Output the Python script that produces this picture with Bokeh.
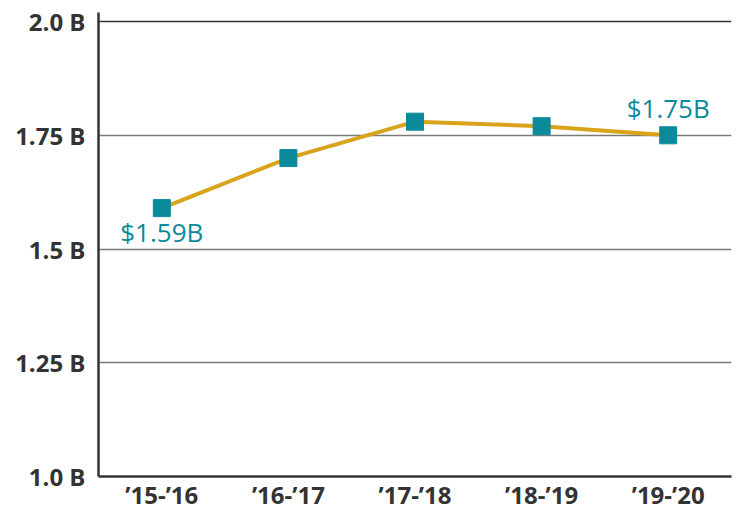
from bokeh.plotting import figure
from bokeh.models import FixedTicker, Range1d, ColumnDataSource, Span
from bokeh.core.properties import value
from bokeh.embed import file_html
from bokeh.resources import INLINE

years = ["\u201915-\u201916", "\u201916-\u201917", "\u201917-\u201918", "\u201918-\u201919", "\u201919-\u201920"]
spending = [1.59, 1.70, 1.78, 1.77, 1.75]

label_years = ["\u201915-\u201916", "\u201919-\u201920"]
label_values = [1.59, 1.75]
label_texts = ["$1.59B", "$1.75B"]

y_ticks = [1.0, 1.25, 1.5, 1.75, 2.0]
y_tick_labels = ["1.0 B", "1.25 B", "1.5 B", "1.75 B", "2.0 B"]

FONT = "Open Sans"
TEAL = "#0A8A9B"
GOLD = "#D9A31C"

p = figure(x_range=years, y_range=Range1d(1.0, 2.02), width=744, height=513,
           output_backend="svg", toolbar_location=None,
           min_border_left=98, min_border_right=13, min_border_top=12, min_border_bottom=34)
p.outline_line_color = None
p.background_fill_color = "white"

p.line(x=years, y=spending, line_color=GOLD, line_width=4)
p.scatter(x=years, y=spending, marker="square", size=17, fill_color=TEAL, line_color=TEAL)

src_lo = ColumnDataSource(dict(x=label_years[:1], y=label_values[:1], t=label_texts[:1]))
src_hi = ColumnDataSource(dict(x=label_years[1:], y=label_values[1:], t=label_texts[1:]))
p.text(x="x", y="y", text="t", source=src_lo, text_font=value(FONT), text_font_size="26px",
       text_color=TEAL, text_align="center", text_baseline="top", y_offset=6)
p.text(x="x", y="y", text="t", source=src_hi, text_font=value(FONT), text_font_size="26px",
       text_color=TEAL, text_align="center", text_baseline="bottom", y_offset=-9)

p.yaxis.ticker = FixedTicker(ticks=y_ticks)
p.yaxis.major_label_overrides = {t: l for t, l in zip(y_ticks, y_tick_labels)}
for ax in (p.xaxis, p.yaxis):
    ax.major_tick_line_color = None
    ax.minor_tick_line_color = None
    ax.major_tick_out = 0
    ax.major_tick_in = 0
    ax.minor_tick_out = 0
    ax.axis_line_color = "#333333"
    ax.axis_line_width = 2.5
    ax.major_label_text_font = FONT
    ax.major_label_text_font_size = "24px"
    ax.major_label_text_font_style = "bold"
    ax.major_label_text_color = "#333333"
p.yaxis.major_label_standoff = 13
p.xaxis.major_label_standoff = 1

p.xgrid.grid_line_color = None
p.ygrid.ticker = FixedTicker(ticks=y_ticks[1:4])
p.ygrid.grid_line_color = "#7a7a7a"
p.ygrid.grid_line_width = 1.5
p.add_layout(Span(location=2.0, dimension="width", line_color="#333333", line_width=1.5))

open("out.html", "w").write(file_html(p, INLINE))
